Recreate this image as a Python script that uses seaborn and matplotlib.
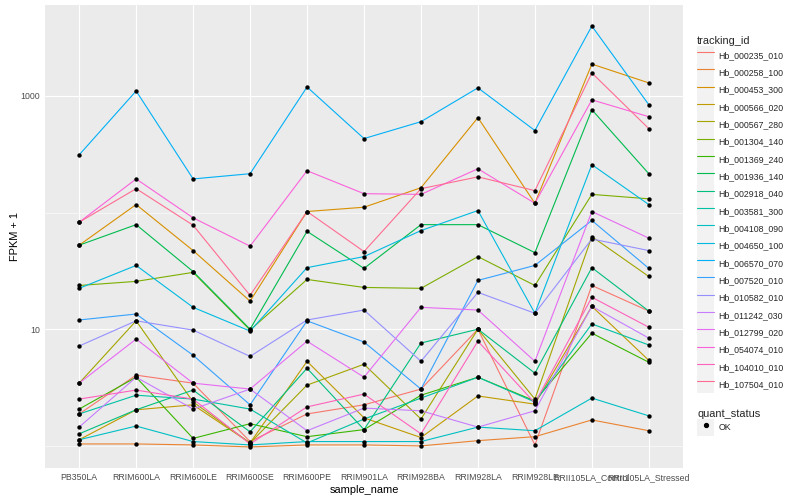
import numpy as np
import pandas as pd
import matplotlib
matplotlib.use("Agg")
import matplotlib.pyplot as plt
import seaborn as sns
from matplotlib.lines import Line2D
from matplotlib.patches import Rectangle
from matplotlib.legend_handler import HandlerTuple
from matplotlib.ticker import FixedLocator, FixedFormatter, NullFormatter

samples = ["PB350LA", "RRIM600LA", "RRIM600LE", "RRIM600SE", "RRIM600PE",
           "RRIM901LA", "RRIM928BA", "RRIM928LA", "RRIM928LE",
           "RRII105LA_Control", "RRII105LA_Stressed"]

tracking_ids = ["Hb_000235_010", "Hb_000258_100", "Hb_000453_300", "Hb_000566_020",
                "Hb_000567_280", "Hb_001304_140", "Hb_001369_240", "Hb_001936_140",
                "Hb_002918_040", "Hb_003581_300", "Hb_004108_090", "Hb_004650_100",
                "Hb_006570_070", "Hb_007520_010", "Hb_010582_010", "Hb_011242_030",
                "Hb_012799_020", "Hb_054074_010", "Hb_104010_010", "Hb_107504_010"]

# FPKM + 1, one value per sample (same order as samples)
hb_000235_010 = [1.88, 4.04, 3.45, 1.09, 1.88, 2.25, 3.07, 10.0, 1.02, 23.7, 14.3]
hb_000258_100 = [1.04, 1.04, 1.02, 0.98, 1.02, 1.02, 1.00, 1.11, 1.20, 1.67, 1.35]
hb_000453_300 = [52.5, 117, 47.2, 17.4, 102, 111, 163, 650, 120, 1870, 1290]
hb_000566_020 = [1.13, 2.04, 2.25, 1.06, 5.31, 1.74, 1.18, 2.68, 2.28, 15.7, 5.41]
hb_000567_280 = [3.45, 11.8, 2.38, 1.06, 3.32, 5.01, 1.70, 10.0, 2.52, 62.2, 28.3]
hb_001304_140 = [23.7, 25.7, 30.7, 9.83, 26.7, 22.8, 22.4, 41.9, 23.7, 143, 131]
hb_001369_240 = [2.07, 3.88, 1.16, 1.55, 1.20, 1.38, 2.72, 3.88, 2.43, 9.25, 5.21]
hb_001936_140 = [52.5, 78.7, 31.2, 10.0, 69, 33.2, 78.7, 78.7, 45.3, 760, 215]
hb_002918_040 = [1.27, 2.04, 3.01, 1.32, 4.63, 1.38, 7.62, 10.0, 4.20, 33.7, 14.3]
hb_003581_300 = [1.88, 2.72, 2.52, 2.07, 1.06, 1.70, 2.57, 3.88, 2.38, 11.1, 7.33]
hb_004108_090 = [1.13, 1.48, 1.09, 1.02, 1.09, 1.09, 1.09, 1.45, 1.35, 2.57, 1.81]
hb_004650_100 = [22.4, 35.2, 15.4, 9.64, 33.7, 41.9, 70, 104, 13.7, 257, 117]
hb_006570_070 = [312, 1100, 194, 215, 1190, 430, 600, 1170, 504, 3960, 838]
hb_007520_010 = [12.0, 13.5, 5.98, 2.25, 11.8, 7.77, 3.07, 26.2, 35.2, 85.5, 33.2]
hb_010582_010 = [7.18, 11.8, 9.83, 5.85, 12.0, 14.6, 5.31, 20.7, 13.7, 59.3, 47.2]
hb_011242_030 = [1.45, 3.88, 2.07, 3.07, 1.35, 2.11, 2.00, 1.45, 2.00, 15.7, 8.39]
hb_012799_020 = [3.45, 8.24, 3.45, 3.07, 7.9, 3.88, 15.4, 14.6, 5.31, 102, 60.3]
hb_054074_010 = [82.6, 194, 90, 51.5, 228, 145, 143, 237, 120, 923, 662]
hb_104010_010 = [2.52, 3.01, 2.52, 1.04, 2.16, 2.78, 1.27, 7.9, 2.33, 18.8, 10.4]
hb_107504_010 = [82.6, 160, 77.8, 19.5, 102, 46.3, 160, 202, 154, 1570, 523]

series = [hb_000235_010, hb_000258_100, hb_000453_300, hb_000566_020, hb_000567_280,
          hb_001304_140, hb_001369_240, hb_001936_140, hb_002918_040, hb_003581_300,
          hb_004108_090, hb_004650_100, hb_006570_070, hb_007520_010, hb_010582_010,
          hb_011242_030, hb_012799_020, hb_054074_010, hb_104010_010, hb_107504_010]

# ggplot2 default hue palette for 20 levels
palette = ["#F8766D", "#EA8331", "#D89000", "#C09B00", "#A3A500", "#7CAE00", "#39B600",
           "#00BB4E", "#00BF7D", "#00C1A3", "#00BFC4", "#00BAE0", "#00B0F6", "#35A2FF",
           "#9590FF", "#C77CFF", "#E76BF3", "#FA62DB", "#FF62BC", "#FF6C91"]

rows = []
for tid, vals in zip(tracking_ids, series):
    for s, v in zip(samples, vals):
        rows.append({"tracking_id": tid, "sample_name": s, "fpkm1": v})
df = pd.DataFrame(rows)
df["x"] = df["sample_name"].map({s: i for i, s in enumerate(samples)})
df["quant_status"] = "OK"

sns.set_theme(style="darkgrid")
plt.rcParams["font.family"] = ["Liberation Sans", "DejaVu Sans"]

fig = plt.figure(figsize=(8, 5), dpi=100)
ax = fig.add_axes([45 / 800, 32 / 500, 638 / 800, 463 / 500])
ax.set_facecolor("#EBEBEB")

sns.lineplot(data=df, x="x", y="fpkm1", hue="tracking_id", hue_order=tracking_ids,
             palette=palette, estimator=None, sort=False, linewidth=0.8,
             legend=False, ax=ax)
sns.scatterplot(data=df, x="x", y="fpkm1", color="black", s=10, linewidth=0,
                legend=False, zorder=3, ax=ax)

ax.set_yscale("log")
lo, hi = np.log10(df["fpkm1"].min()), np.log10(df["fpkm1"].max())
pad = 0.05 * (hi - lo)
ax.set_ylim(10 ** (lo - pad), 10 ** (hi + pad))
ax.set_xlim(-0.6, len(samples) - 0.4)

ax.yaxis.set_major_locator(FixedLocator([10, 1000]))
ax.yaxis.set_major_formatter(FixedFormatter(["10", "1000"]))
ax.yaxis.set_minor_locator(FixedLocator([1, 100]))
ax.yaxis.set_minor_formatter(NullFormatter())
ax.set_xticks(range(len(samples)))
ax.set_xticklabels(samples)

ax.grid(which="major", color="white", linewidth=0.8)
ax.grid(which="minor", axis="y", color="white", linewidth=0.4)
ax.grid(which="minor", axis="x", visible=False)
for sp in ax.spines.values():
    sp.set_visible(False)
ax.tick_params(which="major", length=2.2, width=0.6, color="#333333",
               labelsize=6.3, labelcolor="#4D4D4D", pad=1.5)
ax.tick_params(which="minor", length=0)
ax.set_xlabel("sample_name", fontsize=7.9, color="black", labelpad=2)
ax.set_ylabel("FPKM + 1", fontsize=7.9, color="black", labelpad=0.5)

key_bg = dict(facecolor="#F2F2F2", edgecolor="none")
handles = [(Rectangle((0, 0), 1, 1, **key_bg), Line2D([], [], color=c, linewidth=0.8))
           for c in palette]
leg_kw = dict(handler_map={tuple: HandlerTuple(ndivide=1, pad=0)}, loc="upper left",
              frameon=False, fontsize=6.3, title_fontsize=7.9, handlelength=1.97,
              handleheight=2.67, labelspacing=0, handletextpad=0.5, borderpad=0,
              borderaxespad=0, alignment="left")
fig.legend(handles, tracking_ids, title="tracking_id",
           bbox_to_anchor=(697 / 800, 1 - 36.5 / 500), **leg_kw)

ok_handle = (Rectangle((0, 0), 1, 1, **key_bg),
             Line2D([], [], marker="o", color="black", linestyle="", markersize=2.8))
fig.legend([ok_handle], ["OK"], title="quant_status",
           bbox_to_anchor=(697 / 800, 1 - 409 / 500), **leg_kw)

fig.savefig("out.png", dpi=100)
